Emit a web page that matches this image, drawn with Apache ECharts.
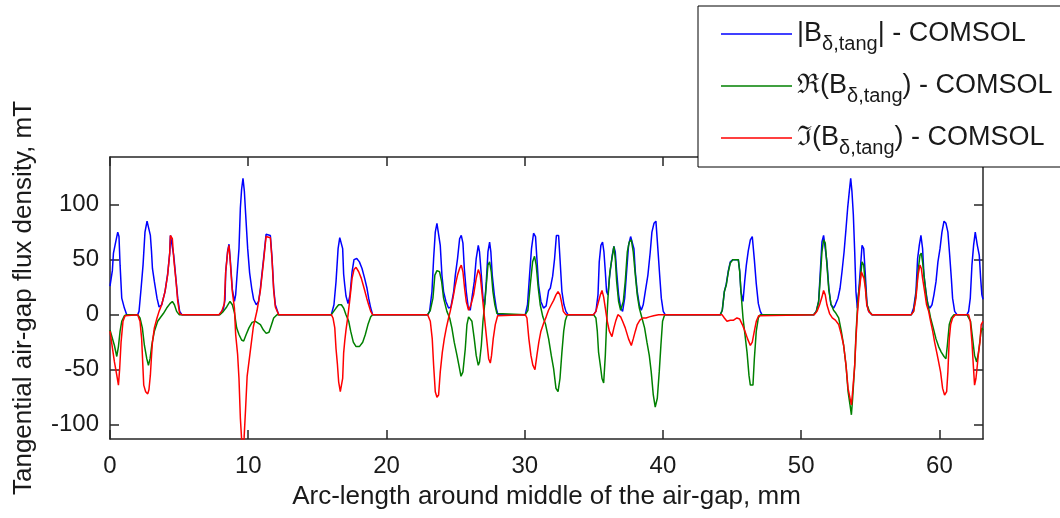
<!DOCTYPE html>
<html>
<head>
<meta charset="utf-8">
<script src="https://cdn.jsdelivr.net/npm/echarts@6/dist/echarts.min.js"></script>
<style>html,body{margin:0;padding:0;background:#fff;}#c{width:1060px;height:518px;}</style>
</head>
<body>
<div id="c"></div>
<script>
// ---- data (x in mm, y in mT) ----
const xTicks = [0, 10, 20, 30, 40, 50, 60];
const yTicks = [-100, -50, 0, 50, 100];
const seriesNames = ['|B| - COMSOL', 'Re(B) - COMSOL', 'Im(B) - COMSOL'];

const absB = [
 [0,26],[0.17,40],[0.25,56],[0.41,66],[0.56,75],[0.65,71],[0.73,45],[0.85,15],[1.04,6],[1.21,0],
 [2.0,0],[2.1,3],[2.25,24],[2.39,45],[2.53,75],[2.68,85],[2.82,85],[2.92,72],[3.0,58],[3.07,42],[3.21,30],[3.4,15],[3.55,7],[3.74,9],[3.98,21],[4.17,37],[4.32,56],[4.37,72],[4.51,71],[4.61,54],[4.78,31],[4.9,15],[5.04,3],[5.2,0],
 [7.9,0],[8.08,3],[8.2,5],[8.32,14],[8.37,39],[8.51,58],[8.61,64],[8.7,50],[8.85,23],[9.0,12],[9.09,18],[9.19,36],[9.33,60],[9.43,97],[9.52,114],[9.62,124],[9.72,112],[9.81,92],[9.96,60],[10.1,38],[10.25,24],[10.39,14],[10.58,9],[10.75,12],[10.88,24],[11.12,52],[11.29,73],[11.6,72],[11.72,52],[11.84,24],[11.96,9],[12.2,0],
 [16.01,0],[16.2,9],[16.35,30],[16.5,60],[16.62,70],[16.74,71],[16.83,60],[16.9,37],[16.98,27],[17.07,17],[17.22,10],[17.36,18],[17.51,39],[17.65,50],[17.85,51],[18.04,48],[18.23,42],[18.42,33],[18.59,24],[18.71,15],[18.86,6],[19.0,0],
 [22.98,0],[23.12,3],[23.29,21],[23.41,51],[23.53,75],[23.65,83],[23.77,82],[23.89,63],[24.01,36],[24.13,21],[24.3,12],[24.49,6],[24.66,7],[24.86,21],[24.98,36],[25.14,51],[25.29,69],[25.41,72],[25.53,65],[25.63,42],[25.77,21],[25.92,6],[26.06,4],[26.18,15],[26.35,30],[26.49,51],[26.64,63],[26.73,57],[26.86,36],[26.98,15],[27.1,9],[27.22,30],[27.34,57],[27.46,66],[27.55,57],[27.65,36],[27.8,18],[27.94,6],[28.06,0],
 [30.04,0],[30.2,9],[30.35,36],[30.49,60],[30.64,74],[30.78,71],[30.88,51],[31.0,27],[31.17,12],[31.36,6],[31.55,8],[31.73,22],[31.85,24],[32.02,35],[32.16,51],[32.29,72],[32.45,72],[32.55,51],[32.69,21],[32.84,9],[32.98,3],[33.13,0],
 [34.98,0],[35.15,3],[35.3,18],[35.39,48],[35.51,63],[35.63,66],[35.73,57],[35.83,39],[35.92,21],[36.02,18],[36.12,33],[36.21,42],[36.33,54],[36.45,62],[36.55,57],[36.65,39],[36.79,18],[36.94,6],[37.08,3],[37.23,15],[37.37,39],[37.51,63],[37.66,71],[37.8,72],[37.9,60],[38.0,39],[38.14,21],[38.29,9],[38.43,4],[38.57,9],[38.72,21],[38.91,36],[39.08,57],[39.2,75],[39.35,83],[39.49,85],[39.63,60],[39.76,36],[39.88,15],[40.02,3],[40.16,0],
 [44.15,0],[44.29,4],[44.44,21],[44.58,28],[44.73,40],[44.87,48],[45.06,50],[45.45,50],[45.55,40],[45.64,21],[45.79,12],[45.91,30],[46.03,45],[46.17,58],[46.32,68],[46.46,71],[46.61,50],[46.75,28],[46.9,10],[47.04,3],[47.16,0],
 [50.9,0],[51.09,3],[51.26,12],[51.38,39],[51.5,66],[51.62,72],[51.74,71],[51.86,48],[52.0,24],[52.15,9],[52.34,6],[52.47,9],[52.66,15],[52.81,24],[52.95,39],[53.1,57],[53.24,78],[53.36,97],[53.48,112],[53.58,124],[53.67,112],[53.77,91],[53.87,57],[53.96,21],[54.06,6],[54.16,21],[54.3,45],[54.4,63],[54.52,60],[54.64,36],[54.76,9],[54.88,3],[55.12,0],
 [57.96,0],[58.13,6],[58.3,21],[58.42,51],[58.54,63],[58.66,72],[58.78,60],[58.88,36],[59.02,21],[59.17,9],[59.31,6],[59.46,9],[59.6,18],[59.75,30],[59.89,48],[60.04,60],[60.18,75],[60.33,85],[60.47,83],[60.61,75],[60.74,54],[60.86,33],[60.95,15],[61.1,3],[61.27,0],
 [61.99,0],[62.11,3],[62.23,15],[62.35,45],[62.47,63],[62.59,75],[62.74,63],[62.88,54],[62.98,33],[63.07,18],[63.15,14]
];

const reB = [
 [0,-14],[0.12,-14],[0.32,-28],[0.49,-38],[0.61,-29],[0.73,-15],[0.85,-6],[1.04,-1],[1.21,0],
 [2.0,0],[2.17,-3],[2.34,-12],[2.49,-28],[2.66,-40],[2.78,-46],[2.9,-40],[3.02,-28],[3.21,-15],[3.45,-6],[3.62,-3],[3.86,1],[4.1,6],[4.34,10],[4.51,12],[4.66,9],[4.82,3],[5.0,0],
 [7.95,0],[8.2,3],[8.44,7],[8.68,12],[8.85,9],[9.0,2],[9.16,-12],[9.33,-18],[9.52,-23],[9.67,-24],[9.85,-18],[10.05,-12],[10.28,-7],[10.52,-6],[10.88,-9],[11.1,-14],[11.3,-17],[11.5,-16],[11.66,-10],[11.84,-3],[12.08,0],
 [16.01,0],[16.18,3],[16.35,6],[16.54,9],[16.74,9],[16.9,6],[17.07,0],[17.27,-6],[17.41,-15],[17.6,-25],[17.8,-29],[18.04,-29],[18.28,-25],[18.47,-18],[18.66,-9],[18.86,-2],[19.0,0],
 [22.98,0],[23.17,4],[23.36,15],[23.5,36],[23.65,40],[23.84,39],[23.99,30],[24.13,15],[24.37,3],[24.57,-3],[24.73,-12],[24.9,-25],[25.1,-37],[25.24,-46],[25.39,-56],[25.53,-52],[25.7,-31],[25.82,-9],[25.94,-2],[26.06,-2],[26.18,-6],[26.35,-22],[26.49,-37],[26.64,-46],[26.73,-43],[26.86,-28],[26.98,-6],[27.1,9],[27.22,27],[27.34,45],[27.46,48],[27.58,39],[27.7,21],[27.84,9],[27.99,1],[28.06,0],
 [30.04,0],[30.23,4],[30.4,27],[30.57,48],[30.71,53],[30.83,45],[30.98,24],[31.12,9],[31.31,-2],[31.51,-9],[31.73,-22],[31.92,-37],[32.09,-49],[32.26,-67],[32.41,-70],[32.55,-58],[32.69,-34],[32.82,-15],[32.94,-5],[33.08,0],
 [34.98,0],[35.15,-3],[35.25,-15],[35.34,-34],[35.47,-46],[35.59,-58],[35.71,-62],[35.83,-37],[35.92,-9],[36.02,15],[36.16,39],[36.31,51],[36.45,62],[36.55,51],[36.65,30],[36.79,12],[36.94,4],[37.13,12],[37.27,30],[37.42,57],[37.56,66],[37.71,68],[37.85,57],[38.0,36],[38.14,18],[38.29,6],[38.48,-3],[38.67,-12],[38.84,-25],[39.01,-37],[39.15,-52],[39.3,-73],[39.44,-84],[39.59,-76],[39.73,-52],[39.85,-28],[39.97,-6],[40.12,0],
 [44.15,0],[44.29,4],[44.44,21],[44.58,27],[44.73,39],[44.87,47],[45.06,50],[45.45,50],[45.55,39],[45.64,21],[45.79,-3],[45.93,-18],[46.08,-34],[46.22,-55],[46.32,-64],[46.51,-64],[46.61,-40],[46.75,-15],[46.9,-3],[47.04,0],
 [50.9,0],[51.09,3],[51.26,12],[51.38,33],[51.5,57],[51.62,68],[51.74,65],[51.86,45],[52.0,22],[52.15,10],[52.34,4],[52.47,2],[52.71,-3],[52.9,-15],[53.07,-28],[53.24,-46],[53.39,-70],[53.53,-82],[53.63,-91],[53.72,-76],[53.87,-46],[53.96,-18],[54.11,15],[54.28,33],[54.4,48],[54.52,45],[54.64,27],[54.76,9],[54.93,3],[55.12,0],
 [57.96,0],[58.13,3],[58.3,18],[58.45,39],[58.59,54],[58.69,56],[58.78,48],[58.93,30],[59.07,15],[59.22,6],[59.36,-3],[59.55,-12],[59.75,-22],[59.94,-29],[60.13,-34],[60.33,-38],[60.47,-40],[60.57,-28],[60.71,-9],[60.86,-3],[61.05,0],
 [61.99,0],[62.25,-6],[62.4,-22],[62.54,-37],[62.69,-43],[62.83,-34],[62.98,-18],[63.07,-12],[63.15,-14]
];

const imB = [
 [0,-15],[0.12,-15],[0.32,-43],[0.49,-55],[0.61,-64],[0.7,-49],[0.8,-25],[0.94,-6],[1.09,-1],[1.21,0],
 [2.0,0],[2.17,-6],[2.29,-22],[2.44,-64],[2.58,-70],[2.73,-72],[2.82,-68],[2.92,-55],[3.0,-38],[3.07,-25],[3.21,-12],[3.4,-3],[3.55,3],[3.74,9],[3.98,21],[4.17,36],[4.32,56],[4.37,72],[4.51,69],[4.61,51],[4.78,30],[4.9,12],[5.04,1],[5.2,0],
 [7.88,0],[8.08,3],[8.27,10],[8.37,39],[8.51,57],[8.61,63],[8.7,48],[8.85,21],[9.0,6],[9.09,-18],[9.23,-36],[9.33,-58],[9.43,-94],[9.52,-113],[9.6,-118],[9.7,-112],[9.81,-85],[9.92,-56],[10.16,-32],[10.37,-11],[10.64,4],[10.88,22],[11.12,50],[11.29,71],[11.6,70],[11.72,50],[11.84,22],[11.96,7],[12.2,0],
 [16.01,0],[16.13,-3],[16.26,-12],[16.35,-31],[16.45,-45],[16.54,-61],[16.66,-70],[16.78,-70],[16.83,-58],[16.9,-35],[16.98,-24],[17.07,-14],[17.17,-5],[17.25,3],[17.36,15],[17.51,33],[17.65,41],[17.8,43],[17.99,39],[18.18,33],[18.38,24],[18.57,15],[18.71,9],[18.86,3],[19.0,0],
 [22.98,0],[23.17,-6],[23.31,-22],[23.41,-46],[23.53,-70],[23.65,-75],[23.77,-73],[23.89,-52],[24.04,-34],[24.18,-22],[24.33,-12],[24.49,-3],[24.61,3],[24.81,15],[24.98,27],[25.14,36],[25.29,42],[25.41,45],[25.53,39],[25.65,24],[25.77,12],[25.94,4],[26.11,9],[26.3,18],[26.49,33],[26.64,41],[26.78,36],[26.9,21],[27.02,6],[27.14,-9],[27.27,-25],[27.39,-40],[27.51,-44],[27.6,-37],[27.72,-22],[27.87,-9],[28.04,-1],[28.1,0],
 [30.04,0],[30.16,-3],[30.3,-22],[30.45,-37],[30.59,-46],[30.74,-50],[30.88,-37],[31.02,-25],[31.17,-15],[31.36,-8],[31.55,-2],[31.72,4],[31.92,9],[32.09,13],[32.26,18],[32.41,21],[32.55,18],[32.65,12],[32.79,3],[32.98,0],
 [34.98,0],[35.15,3],[35.34,12],[35.47,18],[35.59,22],[35.71,16],[35.83,6],[35.97,-6],[36.12,-15],[36.31,-20],[36.45,-12],[36.6,-5],[36.74,0],[36.94,-2],[37.08,-6],[37.27,-12],[37.51,-22],[37.71,-28],[37.85,-22],[38.0,-15],[38.14,-9],[38.33,-5],[38.53,-3],[38.77,-3],[39.01,-2],[39.32,-1],[39.68,0],
 [44.27,0],[44.44,-3],[44.63,-6],[44.87,-5],[45.11,-5],[45.35,-3],[45.55,-4],[45.74,-9],[45.93,-15],[46.12,-22],[46.32,-28],[46.46,-25],[46.61,-15],[46.75,-6],[46.92,-1],[47.04,0],
 [50.94,0],[51.14,3],[51.33,9],[51.5,16],[51.62,22],[51.74,18],[51.86,9],[52.05,1],[52.25,-3],[52.47,-5],[52.71,-9],[52.9,-18],[53.07,-28],[53.24,-46],[53.39,-67],[53.53,-76],[53.63,-82],[53.72,-70],[53.87,-46],[53.96,-22],[54.06,0],[54.2,21],[54.35,39],[54.45,39],[54.54,33],[54.64,24],[54.74,9],[54.88,3],[55.12,0],
 [57.96,0],[58.13,3],[58.3,15],[58.45,36],[58.59,45],[58.69,42],[58.78,33],[58.93,21],[59.07,9],[59.22,3],[59.36,-6],[59.51,-15],[59.65,-25],[59.8,-34],[59.94,-43],[60.08,-52],[60.23,-67],[60.37,-73],[60.52,-70],[60.61,-52],[60.71,-22],[60.81,-9],[60.95,-3],[61.15,0],
 [62.11,0],[62.23,-6],[62.35,-25],[62.45,-46],[62.54,-64],[62.64,-58],[62.74,-46],[62.83,-34],[62.93,-25],[63.02,-9],[63.15,-6]
];

const legendRich = {
  '|B| - COMSOL': '{n||B}{s|δ,tang}{n|| - COMSOL}',
  'Re(B) - COMSOL': '{n|ℜ(B}{s|δ,tang}{n|) - COMSOL}',
  'Im(B) - COMSOL': '{n|ℑ(B}{s|δ,tang}{n|) - COMSOL}'
};

const FONT = '"Liberation Sans", Arial, Helvetica, sans-serif';
const TXT = '#1a1a1a';
const AX = '#262626';

const chart = echarts.init(document.getElementById('c'), null, {renderer: 'canvas'});
const xCommon = {
  type: 'value', min: 0, max: 63.15,
  axisLine: {show: true, onZero: false, lineStyle: {color: AX, width: 1.5}},
  axisTick: {show: true, inside: true, length: 9, customValues: xTicks, lineStyle: {color: AX, width: 1.5}},
  splitLine: {show: false}
};
const yCommon = {
  type: 'value', min: -113, max: 143.3,
  axisLine: {show: true, onZero: false, lineStyle: {color: AX, width: 1.5}},
  axisTick: {show: true, inside: true, length: 9, customValues: yTicks, lineStyle: {color: AX, width: 1.5}},
  splitLine: {show: false}
};
const seriesColors = ['#0000ff', '#008000', '#ff0000'];

chart.setOption({
  animation: false,
  backgroundColor: '#fff',
  grid: {left: 110, right: 77, top: 157, bottom: 79, outerBoundsMode: 'none', containLabel: false},
  legend: {
    show: true, orient: 'vertical', left: 698, top: 6,
    padding: [8, 8, 9, 23], itemGap: 12, itemWidth: 71, itemHeight: 1.6,
    backgroundColor: '#fff', borderColor: '#000', borderWidth: 1, borderRadius: 0,
    selectedMode: false, z: 10,
    data: seriesNames.map((n, i) => ({name: n, icon: 'rect', itemStyle: {color: seriesColors[i]}})),
    formatter: name => legendRich[name],
    textStyle: {
      color: TXT, fontFamily: FONT,
      rich: {
        n: {fontSize: 27, lineHeight: 36, color: TXT, fontFamily: FONT},
        s: {fontSize: 20, lineHeight: 36, padding: [20, 0, 0, 0], color: TXT, fontFamily: FONT}
      }
    }
  },
  xAxis: [
    Object.assign({}, xCommon, {
      position: 'bottom',
      name: 'Arc-length around middle of the air-gap, mm',
      nameLocation: 'middle', nameGap: 45, nameMoveOverlap: false,
      nameTextStyle: {fontSize: 26, color: TXT, fontFamily: FONT},
      axisLabel: {show: true, customValues: xTicks, margin: 15, fontSize: 24, color: TXT, fontFamily: FONT}
    }),
    Object.assign({}, xCommon, {position: 'top', axisLabel: {show: false}})
  ],
  yAxis: [
    Object.assign({}, yCommon, {
      position: 'left',
      name: 'Tangential air-gap flux density, mT',
      nameLocation: 'middle', nameGap: 73, nameMoveOverlap: false,
      nameTextStyle: {fontSize: 26, color: TXT, fontFamily: FONT},
      axisLabel: {show: true, customValues: yTicks, margin: 11, fontSize: 24, color: TXT, fontFamily: FONT}
    }),
    Object.assign({}, yCommon, {position: 'right', axisLabel: {show: false}})
  ],
  series: [
    {name: seriesNames[0], type: 'line', data: absB, symbol: 'none', clip: true, lineStyle: {color: seriesColors[0], width: 1.5}, itemStyle: {color: seriesColors[0]}},
    {name: seriesNames[1], type: 'line', data: reB, symbol: 'none', clip: true, lineStyle: {color: seriesColors[1], width: 1.5}, itemStyle: {color: seriesColors[1]}},
    {name: seriesNames[2], type: 'line', data: imB, symbol: 'none', clip: true, lineStyle: {color: seriesColors[2], width: 1.5}, itemStyle: {color: seriesColors[2]}}
  ]
});
</script>
</body>
</html>
